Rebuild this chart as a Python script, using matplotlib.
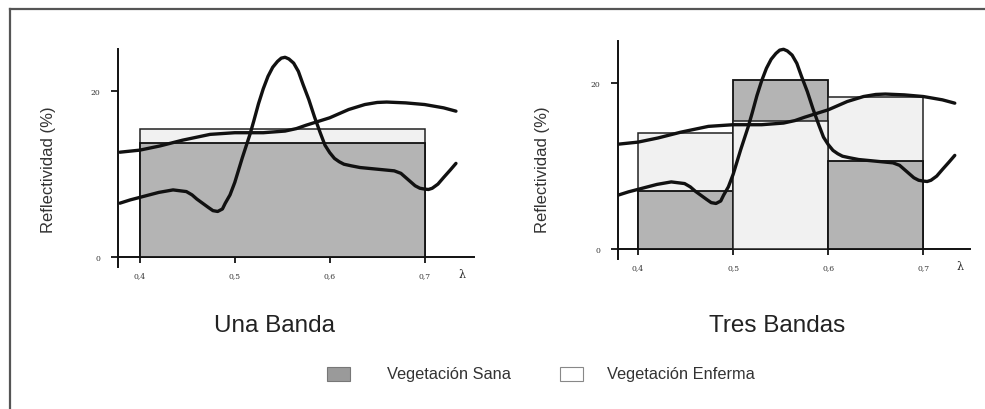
import matplotlib
matplotlib.use("Agg")
from matplotlib import pyplot as plt
from matplotlib.lines import Line2D
from matplotlib.patches import Rectangle

# reflectance curves (wavelength in micrometres, reflectance in %)
sana_lam = [0.379, 0.39, 0.40, 0.41, 0.42, 0.435, 0.449, 0.455, 0.46, 0.466, 0.472,
            0.477, 0.482, 0.487, 0.49, 0.495, 0.50, 0.504, 0.508, 0.512, 0.516,
            0.52, 0.525, 0.53, 0.535, 0.54, 0.545, 0.549, 0.553, 0.557, 0.562,
            0.567, 0.572, 0.578, 0.584, 0.59, 0.595, 0.60, 0.605, 0.61, 0.615,
            0.623, 0.632, 0.65, 0.668, 0.675, 0.68, 0.685, 0.69, 0.695, 0.70,
            0.704, 0.708, 0.714, 0.72, 0.727, 0.733]
sana_ref = [6.5, 6.9, 7.2, 7.5, 7.8, 8.1, 7.9, 7.5, 7.0, 6.5, 6.0,
            5.6, 5.5, 5.8, 6.5, 7.5, 9.0, 10.5, 12.0, 13.4, 14.8,
            16.4, 18.5, 20.3, 21.8, 22.9, 23.6, 24.0, 24.1, 23.9, 23.4,
            22.4, 20.8, 19.0, 16.9, 15.0, 13.5, 12.6, 11.9, 11.5, 11.2,
            11.0, 10.8, 10.6, 10.4, 10.1, 9.6, 9.1, 8.6, 8.3, 8.2,
            8.15, 8.3, 8.8, 9.6, 10.5, 11.3]
enferma_lam = [0.379, 0.40, 0.421, 0.445, 0.474, 0.50, 0.53, 0.553, 0.565, 0.575,
               0.60, 0.62, 0.637, 0.65, 0.66, 0.68, 0.70, 0.72, 0.733]
enferma_ref = [12.65, 12.9, 13.4, 14.1, 14.8, 15.0, 15.0, 15.2, 15.5, 15.9,
               16.8, 17.8, 18.4, 18.65, 18.7, 18.6, 18.4, 18.0, 17.6]

# band-averaged reflectance
una_edges = [0.4, 0.7]
una_sana = [13.7]
una_enferma = [15.5]
tres_edges = [0.4, 0.5, 0.6, 0.7]
tres_sana = [7.0, 20.4, 10.6]
tres_enferma = [14.0, 15.4, 18.3]

xticks = [0.4, 0.5, 0.6, 0.7]
xticklabels = ["0,4", "0,5", "0,6", "0,7"]
yticks = [0, 20]

C_SANA = "#b4b4b4"
C_ENF = "#f1f1f1"
W, H = 985, 410

fig = plt.figure(figsize=(9.85, 4.10), dpi=100)
fig.patch.set_facecolor("white")


def panel(rect, xlim, edges, sana, enferma, ylab_x, title_x, title):
    ax = fig.add_axes(rect)
    ax.set_xlim(*xlim)
    ax.set_ylim(-1.2, 25.1)
    for s in ["top", "right"]:
        ax.spines[s].set_visible(False)
    ax.spines["bottom"].set_position(("data", 0))
    for s in ["left", "bottom"]:
        ax.spines[s].set_linewidth(1.4)
        ax.spines[s].set_color("#111111")
    ax.patch.set_alpha(0)

    for i in range(len(edges) - 1):
        w = edges[i + 1] - edges[i]
        hs, he = sana[i], enferma[i]
        # the shorter bar sits on top of the taller one
        zs, ze = (3, 2) if hs < he else (2, 3)
        ax.bar(edges[i], hs, width=w, align="edge", color=C_SANA,
               edgecolor="#111111", linewidth=1.3, zorder=zs)
        ax.bar(edges[i], he, width=w, align="edge", color=C_ENF,
               edgecolor="#222222", linewidth=1.1, zorder=ze)

    ax.plot(enferma_lam, enferma_ref, color="#111111", lw=2.4, zorder=5,
            solid_capstyle="round", solid_joinstyle="round")
    ax.plot(sana_lam, sana_ref, color="#111111", lw=2.4, zorder=5,
            solid_capstyle="round", solid_joinstyle="round")

    ax.set_xticks(xticks)
    ax.set_xticklabels(xticklabels, family="DejaVu Serif", fontsize=5.5, color="#333333")
    ax.set_yticks(yticks)
    ax.set_yticklabels([str(v) for v in yticks], family="DejaVu Serif",
                       fontsize=5.5, color="#333333")
    ax.tick_params(axis="x", direction="out", length=4, width=1.2, pad=6)
    ax.tick_params(axis="y", direction="out", length=5, width=1.2, pad=8)

    ax.text(0.739, -2.1, "λ", family="DejaVu Serif", fontsize=8,
            ha="center", va="center", color="#222222", clip_on=False)

    fig.text(ylab_x / W, 1 - 170 / H, "Reflectividad (%)", rotation=90,
             family="Liberation Sans", fontsize=12, ha="center", va="center",
             color="#333333")
    fig.text(title_x / W, 1 - 326 / H, title, family="Liberation Sans",
             fontsize=17.5, ha="center", va="center", color="#222222")
    return ax


panel([118 / W, 1 - 268 / H, 356 / W, 218 / H], (0.377, 0.752),
      una_edges, una_sana, una_enferma, 48, 275, "Una Banda")
panel([618 / W, 1 - 260 / H, 352 / W, 218 / H], (0.379, 0.749),
      tres_edges, tres_sana, tres_enferma, 542, 777, "Tres Bandas")

# legend
fig.add_artist(Rectangle((327 / W, 1 - 382 / H), 23 / W, 14 / H, transform=fig.transFigure,
                         facecolor="#9a9a9a", edgecolor="#777777", linewidth=0.8))
fig.text(387 / W, 1 - 375 / H, "Vegetación Sana", family="Liberation Sans",
         fontsize=11.8, ha="left", va="center", color="#333333")
fig.add_artist(Rectangle((560 / W, 1 - 382 / H), 23 / W, 14 / H, transform=fig.transFigure,
                         facecolor="white", edgecolor="#888888", linewidth=0.8))
fig.text(607 / W, 1 - 375 / H, "Vegetación Enferma", family="Liberation Sans",
         fontsize=11.8, ha="left", va="center", color="#333333")

# frame around the figure (top and left edges only are visible)
fig.add_artist(Line2D([10 / W, 1], [1 - 10 / H, 1 - 10 / H], transform=fig.transFigure,
                      color="#555555", lw=1.6))
fig.add_artist(Line2D([10 / W, 10 / W], [0, 1 - 10 / H], transform=fig.transFigure,
                      color="#555555", lw=1.6))

fig.savefig("out.png", dpi=100)
